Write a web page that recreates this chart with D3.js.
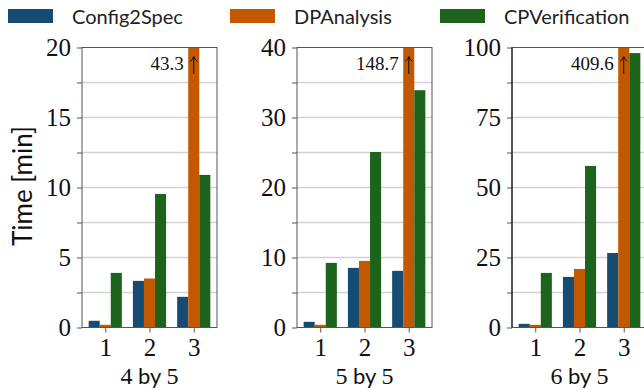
<!DOCTYPE html>
<html>
<head>
<meta charset="utf-8">
<script src="https://cdn.jsdelivr.net/npm/d3@7"></script>
<style>
  body { margin: 0; background: #fff; }
  svg { display: block; }
</style>
</head>
<body>
<script>
'use strict';

// chart data
const topologies = ["4", "5", "6"];          // "<n> by 5"
const groups = [1, 2, 3];
const seriesNames = ["Config2Spec", "DPAnalysis", "CPVerification"];
const config2spec = [[0.48, 3.33, 2.19], [0.81, 8.52, 8.09], [1.31, 18.07, 26.6]];
const dpAnalysis = [[0.19, 3.5, 43.3], [0.38, 9.51, 148.7], [0.95, 20.9, 409.6]];
const cpVerification = [[3.9, 9.54, 10.9], [9.23, 25.07, 33.9], [19.5, 57.7, 98.0]];
const yMax = [20, 40, 100];
const yLabelStep = [5, 10, 25];

(function() {

  const measurements = {
    width: 644,
    height: 390,
    panelLeft: 82,
    panelStep: 215,
    panelWidth: 135,
    top: 47.5,
    bottom: 327.5
  }
  const colors = ["#164b73", "#c25900", "#1c641c"];
  const serif = "'Liberation Serif', 'Times New Roman', serif";
  const sans = "Lato, 'Open Sans', sans-serif";

  let svgContainer = d3.select('body')
    .append('svg')
    .attr('width', measurements.width)
    .attr('height', measurements.height);

  const series = [config2spec, dpAnalysis, cpVerification];

  drawLegend();
  topologies.forEach((t, i) => drawPanel(i));

  // y axis title
  svgContainer.append('text')
    .attr('transform', 'translate(32, 186)rotate(-90)')
    .attr('text-anchor', 'middle')
    .style('font-family', sans)
    .style('font-size', '26px')
    .attr('fill', '#111')
    .text('Time [min]');

  // legend across the top
  function drawLegend() {
    const patchX = [8, 230, 440];
    seriesNames.forEach((name, i) => {
      svgContainer.append('rect')
        .attr('x', patchX[i])
        .attr('y', 9)
        .attr('width', 45)
        .attr('height', 14)
        .attr('fill', colors[i]);
      svgContainer.append('text')
        .attr('x', patchX[i] + 64)
        .attr('y', 24)
        .style('font-family', sans)
        .style('font-size', '20px')
        .attr('fill', '#222')
        .text(name);
    });
  }

  // one subplot per topology
  function drawPanel(p) {
    const left = measurements.panelLeft + p * measurements.panelStep;
    const right = left + measurements.panelWidth;

    let xScale = d3.scaleLinear()
      .domain([0.4745, 3.5255])
      .range([left, right]);
    let yScale = d3.scaleLinear()
      .domain([0, yMax[p]])
      .range([measurements.bottom, measurements.top]);

    let g = svgContainer.append('g');

    // grid lines at every half label step
    let gridTicks = d3.range(0, yMax[p] + 0.001, yLabelStep[p] / 2);
    g.selectAll('.grid')
      .data(gridTicks.slice(1, -1))
      .enter()
      .append('line')
      .attr('x1', left)
      .attr('x2', right)
      .attr('y1', d => yScale(d))
      .attr('y2', d => yScale(d))
      .attr('stroke', '#d3d3d3')
      .attr('stroke-width', 1.4);

    // bars, clipped at the top of the axes
    const barW = 0.25;
    series.forEach((s, k) => {
      g.selectAll('.bar' + k)
        .data(groups)
        .enter()
        .append('rect')
        .attr('x', (d) => xScale(d + (k - 1) * barW - barW / 2))
        .attr('width', xScale(barW) - xScale(0))
        .attr('y', (d, i) => yScale(Math.min(s[p][i], yMax[p])))
        .attr('height', (d, i) => yScale(0) - yScale(Math.min(s[p][i], yMax[p])))
        .attr('fill', colors[k]);
    });

    // value annotation for bars taller than the axes
    series.forEach((s, k) => {
      s[p].forEach((v, i) => {
        if (v <= yMax[p]) return;
        let cx = xScale(groups[i] + (k - 1) * barW);
        g.append('text')
          .attr('x', cx - 10)
          .attr('y', 70)
          .attr('text-anchor', 'end')
          .style('font-family', serif)
          .style('font-size', '19px')
          .attr('fill', '#111')
          .text(v.toFixed(1));
        g.append('line')
          .attr('x1', cx).attr('x2', cx)
          .attr('y1', 74).attr('y2', 57)
          .attr('stroke', '#111')
          .attr('stroke-width', 1);
        g.append('path')
          .attr('d', `M${cx - 3.5},${61.5} Q${cx - 0.5},${59} ${cx},${56.5} Q${cx + 0.5},${59} ${cx + 3.5},${61.5}`)
          .attr('fill', 'none')
          .attr('stroke', '#111')
          .attr('stroke-width', 1);
      });
    });

    // y axis: ticks at every grid line, labels at label step
    let yAxis = d3.axisLeft(yScale)
      .tickValues(gridTicks)
      .tickSize(5)
      .tickPadding(6)
      .tickFormat(d => (d % yLabelStep[p] === 0 ? d3.format('d')(d) : ''));
    let ya = g.append('g')
      .attr('transform', `translate(${left}, 0)`)
      .call(yAxis);

    // x axis
    let xAxis = d3.axisBottom(xScale)
      .tickValues(groups)
      .tickSize(5)
      .tickPadding(6)
      .tickFormat(d3.format('d'));
    let xa = g.append('g')
      .attr('transform', `translate(0, ${measurements.bottom})`)
      .call(xAxis);

    [ya, xa].forEach(a => {
      a.select('.domain').remove();
      a.selectAll('line').attr('stroke', '#555').attr('stroke-width', 1);
      a.selectAll('text')
        .style('font-family', serif)
        .style('font-size', '25px')
        .attr('fill', '#111');
    });

    // frame
    g.append('rect')
      .attr('x', left)
      .attr('y', measurements.top)
      .attr('width', right - left)
      .attr('height', measurements.bottom - measurements.top)
      .attr('fill', 'none')
      .attr('stroke', '#555')
      .attr('stroke-width', 1);
    if (p === 2) {
      g.append('line')
        .attr('x1', left).attr('x2', left)
        .attr('y1', measurements.top).attr('y2', measurements.bottom)
        .attr('stroke', '#000')
        .attr('stroke-width', 1);
    }

    // subplot title below
    let label = g.append('text')
      .attr('x', (left + right) / 2)
      .attr('y', 384)
      .attr('text-anchor', 'middle')
      .attr('fill', '#111');
    label.append('tspan').style('font-family', serif).style('font-size', '24px').text(topologies[p]);
    label.append('tspan').style('font-family', sans).style('font-size', '22px').text(' by ');
    label.append('tspan').style('font-family', serif).style('font-size', '24px').text('5');
  }

})();
</script>
</body>
</html>
